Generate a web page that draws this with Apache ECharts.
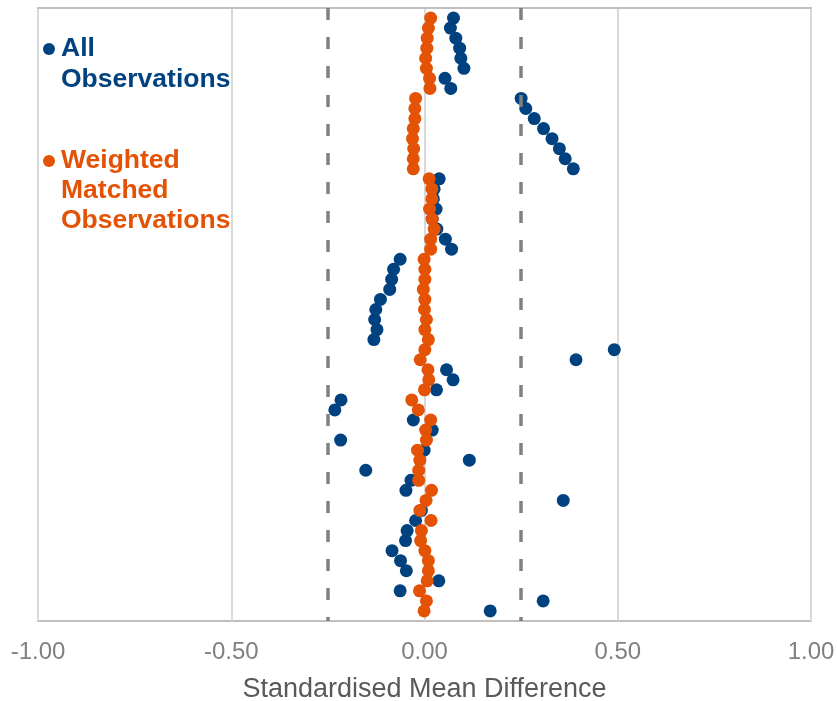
<!DOCTYPE html>
<html>
<head>
    <meta charset="utf-8">
    <title>Standardised Mean Difference</title>
    <script src="https://cdn.jsdelivr.net/npm/echarts@6/dist/echarts.min.js"></script>
</head>
<body style="margin:0">
<div id="main" style="position:absolute;top:0;left:0;width:837px;height:701px;"></div>
<script type="text/javascript">

    // row 1 is the top row, row 60 the bottom one
    var allObs = [
        0.075, 0.067, 0.081, 0.091, 0.094, 0.102, 0.053, 0.068, 0.250, 0.262,
        0.284, 0.308, 0.330, 0.349, 0.364, 0.385, 0.038, 0.025, 0.023, 0.030,
        0.020, 0.032, 0.054, 0.070, -0.063, -0.080, -0.085, -0.090, -0.114, -0.126,
        -0.129, -0.123, -0.131, 0.491, 0.392, 0.057, 0.074, 0.031, -0.216, -0.232,
        -0.029, 0.020, -0.217, -0.001, 0.116, -0.152, -0.035, -0.048, 0.359, -0.008,
        -0.023, -0.045, -0.049, -0.084, -0.062, -0.047, 0.037, -0.063, 0.307, 0.170
    ];
    var weightedObs = [
        0.016, 0.010, 0.007, 0.006, 0.003, 0.005, 0.013, 0.014, -0.023, -0.025,
        -0.025, -0.029, -0.031, -0.028, -0.029, -0.029, 0.012, 0.019, 0.019, 0.013,
        0.020, 0.025, 0.016, 0.016, -0.001, 0.001, 0.001, -0.003, 0.001, 0.000,
        0.005, 0.001, 0.010, 0.001, -0.011, 0.009, 0.011, 0.000, -0.033, -0.016,
        0.016, 0.003, 0.005, -0.018, -0.012, -0.015, -0.015, 0.018, 0.004, -0.012,
        0.017, -0.008, -0.010, 0.001, 0.010, 0.010, 0.007, -0.013, 0.005, -0.001
    ];
    var thresholds = [-0.25, 0.25];

    var blue = '#00427f';
    var orange = '#e35205';
    var font = 'Liberation Sans, Arial, sans-serif';

    function toPoints(values) {
        return values.map(function (v, i) {
            return [v, i + 1];
        });
    }

    // blank lines on top so the marker sits beside the first line of text
    function legendLabel(lines) {
        var pad = [];
        for (var i = 1; i < lines.length; i++) pad.push('');
        return pad.concat(lines).join('\n');
    }

    var myChart = echarts.init(document.getElementById('main'));

    myChart.setOption({
        animation: false,
        textStyle: {fontFamily: font},
        grid: {
            left: 38, right: 26, top: 8, bottom: 80,
            outerBoundsMode: 'none',
            show: true,
            borderColor: '#bfbfbf',
            borderWidth: 2
        },
        legend: [{
            data: [{name: 'All Observations', textStyle: {color: blue}}],
            formatter: function () { return legendLabel(['All', 'Observations']); },
            left: 43, top: 2.5, padding: 0,
            selectedMode: false,
            icon: 'circle', itemWidth: 14, itemHeight: 12,
            textStyle: {fontSize: 26.5, fontWeight: 'bold', lineHeight: 31, fontFamily: font}
        }, {
            data: [{name: 'Weighted Matched Observations', textStyle: {color: orange}}],
            formatter: function () { return legendLabel(['Weighted', 'Matched', 'Observations']); },
            left: 43, top: 86, padding: 0,
            selectedMode: false,
            icon: 'circle', itemWidth: 14, itemHeight: 12,
            textStyle: {fontSize: 26.5, fontWeight: 'bold', lineHeight: 30, fontFamily: font}
        }],
        xAxis: {
            type: 'value',
            min: -1, max: 1, interval: 0.5,
            name: 'Standardised Mean Difference',
            nameLocation: 'middle',
            nameGap: 55,
            nameTextStyle: {color: '#595959', fontSize: 27, fontFamily: font},
            axisLine: {show: true, lineStyle: {color: '#bfbfbf', width: 2}},
            axisTick: {show: false},
            axisLabel: {
                color: '#808080', fontSize: 24, margin: 19, fontFamily: font,
                formatter: function (v) { return v.toFixed(2); }
            },
            splitLine: {show: true, lineStyle: {color: '#d9d9d9', width: 2}}
        },
        yAxis: {
            type: 'value',
            min: 0, max: 61,
            inverse: true,
            show: false,
            splitLine: {show: false}
        },
        series: [{
            // dashed threshold lines
            type: 'scatter',
            data: [],
            z: 1,
            markLine: {
                silent: true,
                symbol: 'none',
                label: {show: false},
                lineStyle: {color: '#808080', width: 3.5, type: [12, 17]},
                data: thresholds.map(function (t) { return {xAxis: t}; })
            }
        }, {
            name: 'All Observations',
            type: 'scatter',
            z: 2,
            symbolSize: 13,
            itemStyle: {color: blue, opacity: 1},
            data: toPoints(allObs)
        }, {
            name: 'Weighted Matched Observations',
            type: 'scatter',
            z: 3,
            symbolSize: 13,
            itemStyle: {color: orange, opacity: 1},
            data: toPoints(weightedObs)
        }]
    });
</script>
</body>
</html>
